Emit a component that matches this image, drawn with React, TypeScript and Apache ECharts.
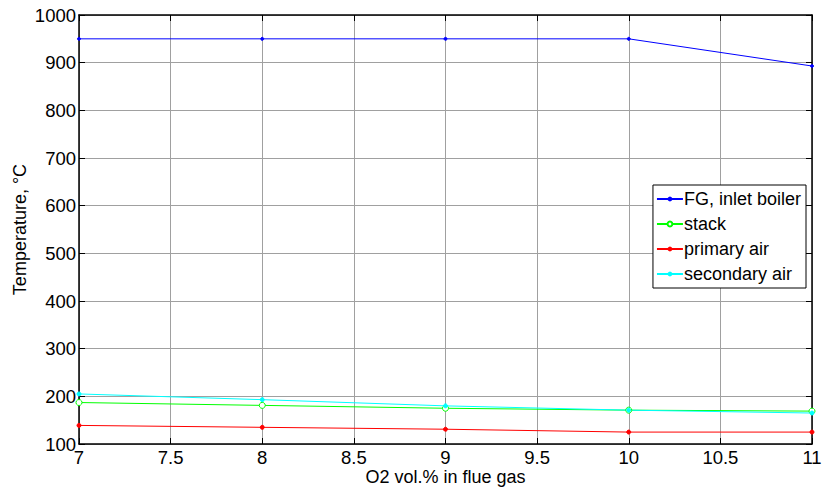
import React, { useEffect, useRef } from "react";
import * as echarts from "echarts";

const xValues = [7, 8, 9, 10, 11];
const fgInlet = [950, 950, 950, 950, 893];
const stack = [187, 181, 175, 171, 169];
const primaryAir = [139, 135, 131, 125, 125];
const secondaryAir = [205, 193, 180, 171, 165];

const FONT = "Liberation Sans, Arial, sans-serif";

export default function App() {
  const ref = useRef<HTMLDivElement>(null);
  useEffect(() => {
    const chart = echarts.init(ref.current!, null, { renderer: "svg" });
    const mk = (name: string, vals: number[], color: string, symbol: string, size: number, empty = false) => ({
      name,
      type: "line",
      data: xValues.map((x, i) => [x, vals[i]]),
      symbol,
      symbolSize: size,
      showAllSymbol: true,
      lineStyle: { color, width: 1 },
      itemStyle: empty ? { color: "#fff", borderColor: color, borderWidth: 1 } : { color, borderColor: color },
      color,
      xAxisIndex: 0,
      yAxisIndex: 0,
    });
    const gridLine = { show: true, lineStyle: { color: "#a0a0a0", width: 1 } };
    chart.setOption({
      animation: false,
      backgroundColor: "#fff",
      grid: { left: 79, right: 10, top: 15, bottom: 46, containLabel: false, outerBoundsMode: "none" },
      xAxis: [
        {
          type: "value", min: 7, max: 11, interval: 0.5, position: "bottom",
          name: "O2 vol.% in flue gas", nameLocation: "middle", nameGap: 24, nameMoveOverlap: false,
          nameTextStyle: { fontFamily: FONT, fontSize: 18, color: "#000" },
          axisLine: { show: true, lineStyle: { color: "#000", width: 1.5 } },
          axisTick: { show: true, inside: true, length: 6, lineStyle: { color: "#000" } },
          axisLabel: { fontFamily: FONT, fontSize: 18.5, color: "#000", margin: 4, formatter: (v: number) => String(v) },
          splitLine: gridLine,
        },
        {
          type: "value", min: 7, max: 11, interval: 0.5, position: "top",
          axisLine: { show: true, lineStyle: { color: "#000", width: 1.5 } },
          axisTick: { show: true, inside: true, length: 6, lineStyle: { color: "#000" } },
          axisLabel: { show: false }, splitLine: { show: false },
        },
      ],
      yAxis: [
        {
          type: "value", min: 100, max: 1000, interval: 100, position: "left",
          name: "Temperature, °C", nameLocation: "middle", nameGap: 50, nameMoveOverlap: false,
          nameTextStyle: { fontFamily: FONT, fontSize: 18, color: "#000" },
          axisLine: { show: true, lineStyle: { color: "#000", width: 1.5 } },
          axisTick: { show: true, inside: true, length: 6, lineStyle: { color: "#000" } },
          axisLabel: { fontFamily: FONT, fontSize: 18.5, color: "#000", margin: 3, formatter: (v: number) => String(v) },
          splitLine: gridLine,
        },
        {
          type: "value", min: 100, max: 1000, interval: 100, position: "right",
          axisLine: { show: true, lineStyle: { color: "#000", width: 1.5 } },
          axisTick: { show: true, inside: true, length: 6, lineStyle: { color: "#000" } },
          axisLabel: { show: false }, splitLine: { show: false },
        },
      ],
      legend: {
        orient: "vertical",
        right: 16,
        top: 185,
        backgroundColor: "#fff",
        borderColor: "#000",
        borderWidth: 1,
        borderRadius: 0,
        padding: [5, 5, 5, 3],
        itemGap: 7,
        itemWidth: 26,
        itemHeight: 6,
        textStyle: { fontFamily: FONT, fontSize: 18, color: "#000", padding: [0, 0, 0, -4] },
        data: ["FG, inlet boiler", "stack", "primary air", "secondary air"],
      },
      series: [
        mk("FG, inlet boiler", fgInlet, "#0000ff", "circle", 3),
        mk("stack", stack, "#00ff00", "circle", 6, true),
        mk("primary air", primaryAir, "#ff0000", "circle", 4),
        mk("secondary air", secondaryAir, "#00ffff", "circle", 4),
      ],
    });
    return () => chart.dispose();
  }, []);
  return <div ref={ref} style={{ width: 822, height: 490, position: "absolute", left: 0, top: 0 }} />;
}
